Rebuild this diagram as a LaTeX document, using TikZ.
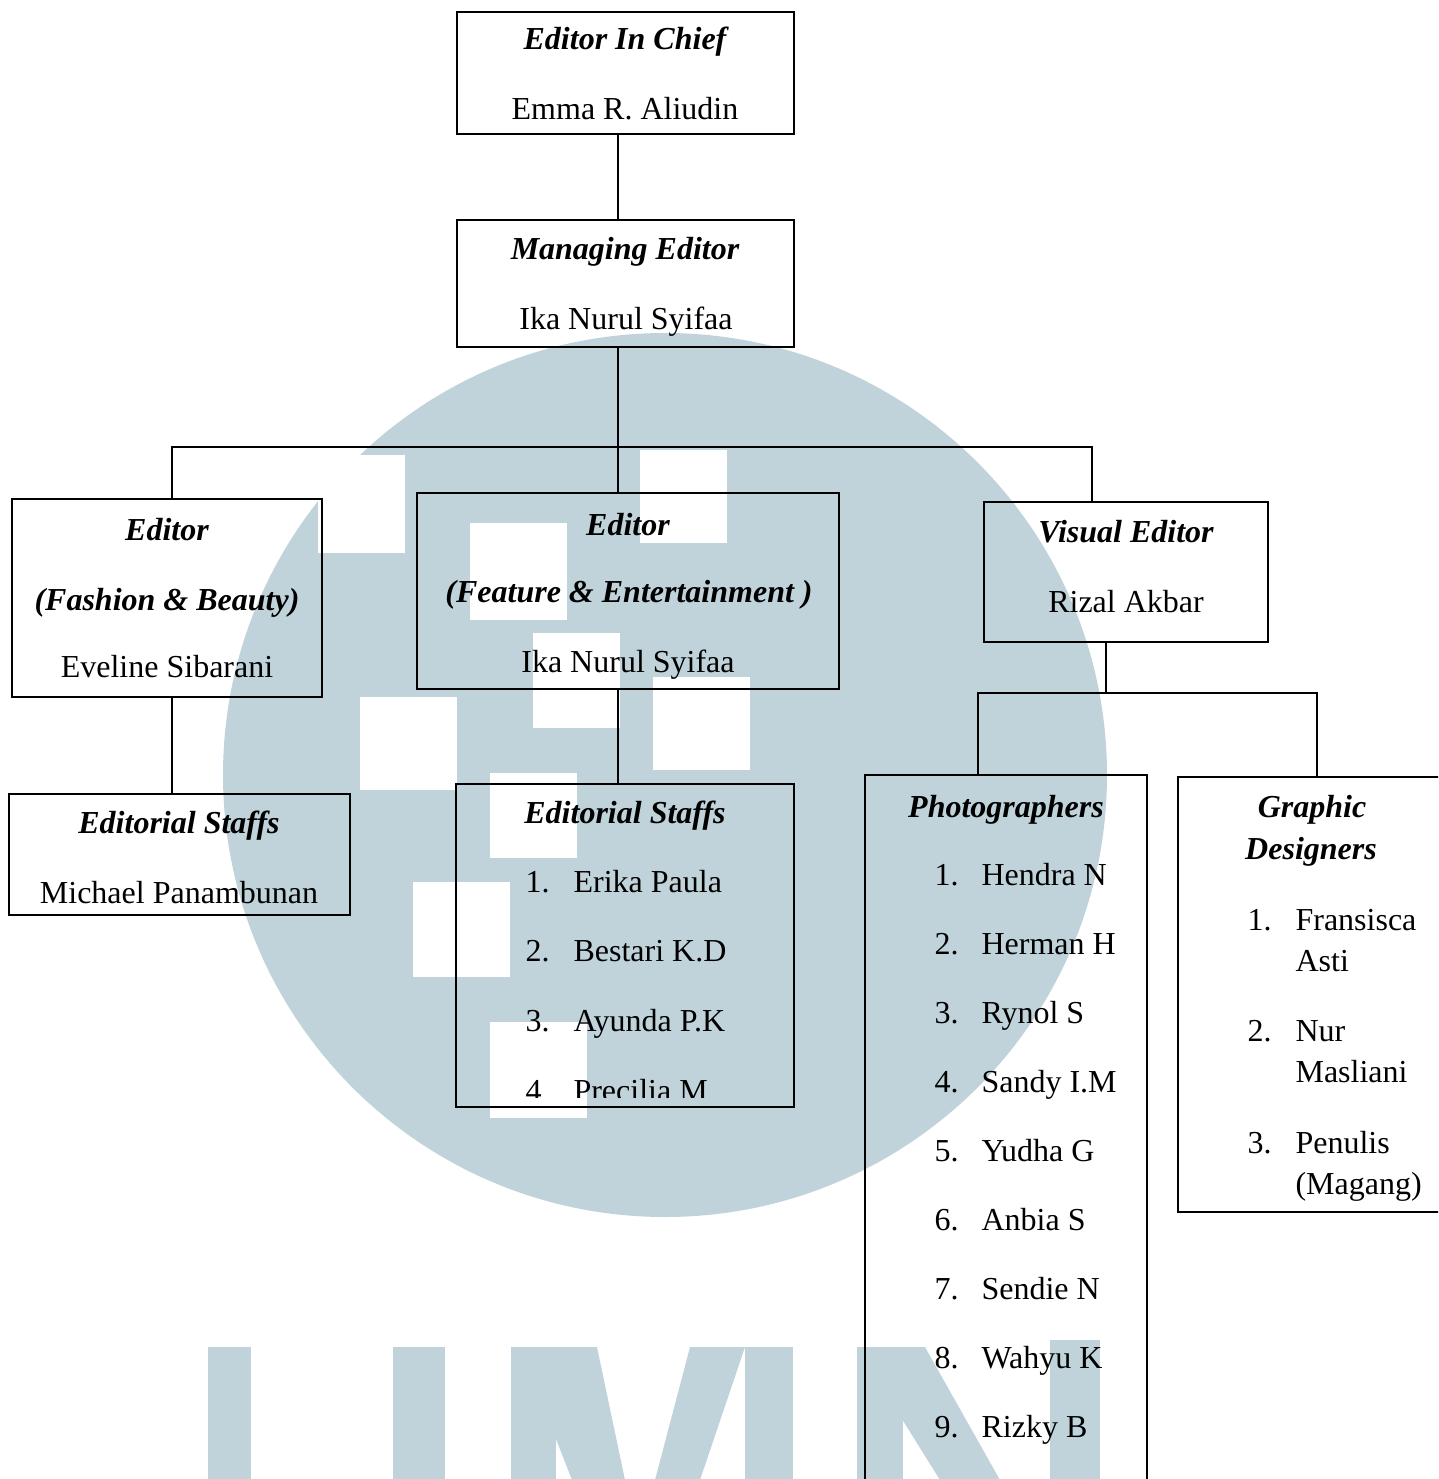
\documentclass[tikz,border=0pt]{standalone}
\usepackage{fontspec}
\setmainfont{Liberation Serif}
\usepackage{tikz}
\usetikzlibrary{fit, positioning}
\definecolor{colWater}{RGB}{192, 211, 218}

\tikzset{
    box/.style={draw, line width=0.75pt, inner sep=0pt},
    head/.style={font=\fontsize{12}{14}\selectfont\bfseries\itshape, anchor=base, inner sep=0pt},
    txt/.style={font=\fontsize{12}{14}\selectfont, anchor=base, inner sep=0pt},
    link/.style={line width=0.6pt}
}

\begin{document}
\begin{tikzpicture}[x=0.375pt, y=-0.375pt]
    \useasboundingbox (0,0) rectangle (1438,1479);
    \clip (0,0) rectangle (1438,1479);

    % --- Watermark (circle + squares) ---
    \fill[colWater] (665,775) circle [radius=442];
    \foreach \xa/\ya/\xb/\yb in {318/455/405/553, 470/523/567/620, 640/450/727/543,
        533/633/620/728, 653/677/750/770, 360/697/457/790, 490/773/577/858,
        413/882/510/977, 490/1022/587/1118} {
        \fill[white] (\xa,\ya) rectangle (\xb,\yb);
    }
    % letters at the bottom
    \fill[colWater] (208,1347) rectangle (251,1480);
    \fill[colWater] (393,1347) rectangle (445,1480);
    \fill[colWater] (511,1347) rectangle (556,1480);
    \fill[colWater] (520,1347) -- (597,1347) -- (625,1480) -- (572,1480) -- cycle;
    \fill[colWater] (690,1347) -- (745,1347) -- (700,1480) -- (655,1480) -- cycle;
    \fill[colWater] (745,1347) rectangle (793,1480);
    \fill[colWater] (857,1347) rectangle (903,1480);
    \fill[colWater] (857,1347) -- (925,1347) -- (1000,1480) -- (940,1480) -- cycle;
    \fill[colWater] (1050,1340) rectangle (1100,1480);

    % --- Boxes ---
    \node[box, fit={(457,12) (794,134)}] (chief) {};
    \node[box, fit={(457,220) (794,347)}] (managing) {};
    \node[box, fit={(12,499) (322,697)}] (fashion) {};
    \node[box, fit={(417,493) (839,689)}] (feature) {};
    \node[box, fit={(984,502) (1268,642)}] (visual) {};
    \node[box, fit={(9,794) (350,915)}] (staffL) {};
    \node[box, fit={(456,784) (794,1107)}] (staffC) {};
    \node[box, fit={(865,775) (1147,1500)}] (photo) {};
    \node[box, fit={(1178,777) (1460,1212)}] (graphic) {};

    % --- Connectors ---
    \coordinate (trunk) at (618,447);
    \coordinate (barL) at (172,447);
    \coordinate (barR) at (1092,447);
    \coordinate (vsplit) at (1106,693);
    \coordinate (vL) at (978,693);
    \coordinate (vR) at (1317,693);
    \draw[link] (chief.south -| trunk) -- (managing.north -| trunk);
    \draw[link] (managing.south -| trunk) -- (feature.north -| trunk);
    \draw[link] (fashion.north -| barL) -- (barL) -- (barR) -- (visual.north -| barR);
    \draw[link] (fashion.south -| barL) -- (staffL.north -| barL);
    \draw[link] (feature.south -| trunk) -- (staffC.north -| trunk);
    \draw[link] (visual.south -| vsplit) -- (vsplit);
    \draw[link] (photo.north -| vL) -- (vL) -- (vR) -- (graphic.north -| vR);

    % --- Texts ---
    \node[head] (chiefT) at (625,50) {Editor In Chief};
    \node[txt] (chiefN) at (625,120) {Emma R. Aliudin};

    \node[head] (managingT) at (625,260) {Managing Editor};
    \node[txt] (managingN) at (626,330) {Ika Nurul Syifaa};

    \node[head] (fashionT) at (167,540) {Editor};
    \node[head] (fashionS) at (167,610) {(Fashion \& Beauty)};
    \node[txt] (fashionN) at (167,677) {Eveline Sibarani};

    \node[head] (featureT) at (628,535) {Editor};
    \node[head] (featureS) at (629,602) {(Feature \& Entertainment )};
    \node[txt] (featureN) at (628,672) {Ika Nurul Syifaa};

    \node[head] (visualT) at (1126,542) {Visual Editor};
    \node[txt] (visualN) at (1126,612) {Rizal Akbar};

    \node[head] (staffLT) at (179,833) {Editorial Staffs};
    \node[txt] (staffLN) at (179,903) {Michael Panambunan};

    % Editorial Staffs list
    \node[head] (staffCT) at (625,823) {Editorial Staffs};
    \foreach \nm [count=\i] in {Erika Paula, Bestari K.D, Ayunda P.K} {
        \node[txt, anchor=base west] (staffC-n\i) at (525,{892+69.7*(\i-1)}) {\i.};
        \node[txt, anchor=base west] (staffC-m\i) at (573,{892+69.7*(\i-1)}) {\nm};
    }
    \begin{scope}
        \clip (456,784) rectangle (794,1097); % last line cut off
        \node[txt, anchor=base west] (staffC-n4) at (525,1101) {4};
        \node[txt, anchor=base west] (staffC-m4) at (573,1101) {Precilia M};
    \end{scope}

    % Photographers list
    \node[head] (photoT) at (1006,817) {Photographers};
    \foreach \nm [count=\i] in {Hendra N, Herman H, Rynol S, Sandy I.M, Yudha G,
        Anbia S, Sendie N, Wahyu K, Rizky B} {
        \node[txt, anchor=base west] (photo-n\i) at (934,{885+69*(\i-1)}) {\i.};
        \node[txt, anchor=base west] (photo-m\i) at (981,{885+69*(\i-1)}) {\nm};
    }

    % Graphic Designers list
    \node[head] (graphicT) at (1312,817) {Graphic};
    \node[head] (graphicS) at (1311,859) {Designers};
    \foreach \na/\nb [count=\i] in {Fransisca/Asti, Nur/Masliani, Penulis/(Magang)} {
        \node[txt, anchor=base west] (graphic-n\i) at (1247,{930+111.5*(\i-1)}) {\i.};
        \node[txt, anchor=base west] (graphic-a\i) at (1295,{930+111.5*(\i-1)}) {\na};
        \node[txt, anchor=base west] (graphic-b\i) at (1295,{971+111.5*(\i-1)}) {\nb};
    }
\end{tikzpicture}
\end{document}
